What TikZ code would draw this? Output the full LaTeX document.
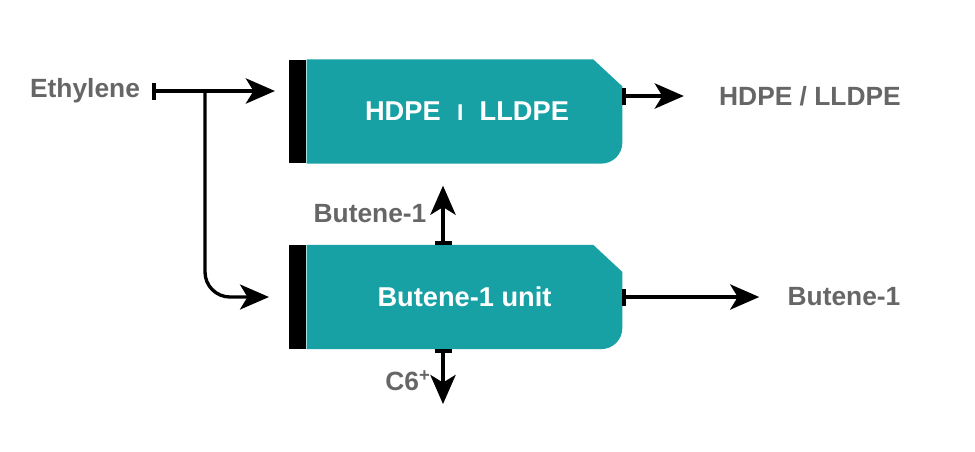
\documentclass[tikz,border=0pt]{standalone}
\usepackage{fontspec}
\setmainfont{Liberation Sans}
\usetikzlibrary{arrows.meta,positioning,backgrounds}
\definecolor{unitteal}{RGB}{24,161,165}
\definecolor{labelgray}{RGB}{102,102,102}

\begin{document}
\begin{tikzpicture}[x=0.02cm,y=-0.02cm,
    unit/.style={minimum width=6.3cm, minimum height=2.07cm, inner sep=0,
      text=white, font=\fontsize{15.5}{18}\selectfont\bfseries},
    feedbar/.style={fill=black, minimum width=0.34cm, minimum height=2.07cm, inner sep=0},
    stream/.style={font=\fontsize{15}{18}\selectfont\bfseries, text=labelgray, inner sep=0},
    flow/.style={line width=2.7pt,
      {Bar[width=0.34cm,line width=2pt]}-{Stealth[length=0.58cm,width=0.5cm,inset=0.15cm]}},
    branch/.style={line width=1.9pt, -{Stealth[length=0.58cm,width=0.5cm,inset=0.15cm]}},
  ]
  \useasboundingbox (0,0) rectangle (975,451);

  % units
  \node[unit] (hdpe) at (464.5,111.5) {\hspace{0.1cm}HDPE\hspace{0.6em}\raisebox{0.4pt}{\fontsize{13}{12}\selectfont I}\hspace{0.6em}LLDPE};
  \node[feedbar, left=0pt of hdpe] (hdpebar) {};
  \node[unit] (butene) at (464.5,297) {Butene-1 unit};
  \node[feedbar, left=0pt of butene] (butenebar) {};

  \begin{scope}[on background layer]
    \foreach \u in {hdpe,butene}
      \fill[unitteal] (\u.north west) -- ([xshift=-0.58cm]\u.north east)
        -- ([yshift=-0.54cm]\u.north east) [rounded corners=0.42cm] -- (\u.south east)
        [sharp corners] -- (\u.south west) -- cycle;
  \end{scope}

  % streams
  \node[stream] (ethylene) at (85,91) {Ethylene};
  \node[stream] (hdpeout) at (810,96) {HDPE / LLDPE};
  \node[stream] (buteneout) at (844,297) {Butene-1};
  \node[stream] (recycle) at (370,214) {Butene-1};
  \node[stream] (heavies) at (408,381) {C6\textsuperscript{+}};

  \coordinate (split) at (205,90);
  \coordinate (riser) at ([xshift=-0.43cm]butene.north);

  \draw[flow] ([xshift=0.24cm]ethylene.east) -- ([xshift=-0.28cm]hdpebar.west |- ethylene.east);
  \draw[branch, rounded corners=0.5cm] (split) |- ([xshift=-0.4cm]butenebar.west);
  \draw[flow] (hdpe.east |- hdpeout) -- ([xshift=-0.7cm]hdpeout.west);
  \draw[flow] (riser) -- ([yshift=-0.44cm]riser |- hdpe.south);
  \draw[flow] (butene.east) -- ([xshift=-0.56cm]buteneout.west);
  \draw[flow] (riser |- butene.south) -- ++(0,55);
\end{tikzpicture}
\end{document}
